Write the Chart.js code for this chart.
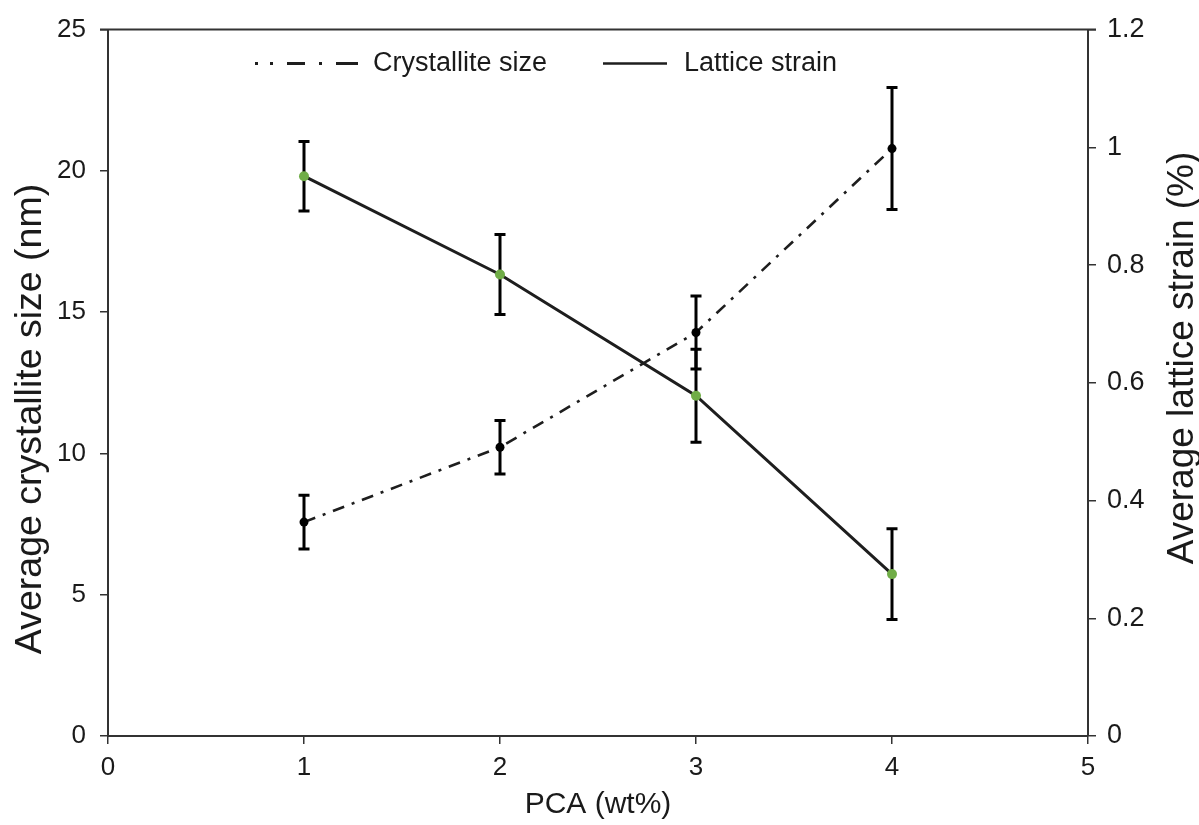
<!DOCTYPE html>
<html>
<head>
<meta charset="utf-8">
<script src="https://cdn.jsdelivr.net/npm/chart.js@4/dist/chart.umd.min.js"></script>
<style>
  html, body { margin: 0; padding: 0; background: #ffffff; }
  #wrap { width: 1199px; height: 825px; }
</style>
</head>
<body>
<div id="wrap"><canvas id="c" width="1199" height="825"></canvas></div>
<script>
// ---- data ----
const pca = [1, 2, 3, 4];
const crystalliteSize = [7.57, 10.22, 14.28, 20.79];
const crystalliteErr = [0.95, 0.95, 1.29, 2.16];
const latticeStrain = [0.951, 0.784, 0.578, 0.275];
const latticeErr = [0.059, 0.068, 0.079, 0.077];

const xTicks = [0, 1, 2, 3, 4, 5];
const leftTicks = [0, 5, 10, 15, 20, 25];
const rightTicks = [0, 0.2, 0.4, 0.6, 0.8, 1, 1.2];

const xTitle = 'PCA (wt%)';
const leftTitle = 'Average crystallite size (nm)';
const rightTitle = 'Average lattice strain (%)';

const FONT = '"Liberation Sans", Arial, sans-serif';
const INK = '#1a1a1a';
const AXIS = '#333333';
const GREEN = '#70ad47';
const DASHDOT = [12, 8, 3, 8];

const errorBars = {
  id: 'errorBars',
  beforeDatasetsDraw(chart) {
    const ctx = chart.ctx;
    const xs = chart.scales.x;
    const sets = [
      { axis: chart.scales.y, vals: crystalliteSize, err: crystalliteErr },
      { axis: chart.scales.y1, vals: latticeStrain, err: latticeErr }
    ];
    ctx.save();
    ctx.strokeStyle = '#000';
    ctx.lineWidth = 3;
    ctx.lineCap = 'butt';
    sets.forEach(s => {
      pca.forEach((xv, i) => {
        const px = xs.getPixelForValue(xv);
        const top = s.axis.getPixelForValue(s.vals[i] + s.err[i]);
        const bot = s.axis.getPixelForValue(s.vals[i] - s.err[i]);
        ctx.beginPath();
        ctx.moveTo(px, top); ctx.lineTo(px, bot);
        ctx.moveTo(px - 5.5, top); ctx.lineTo(px + 5.5, top);
        ctx.moveTo(px - 5.5, bot); ctx.lineTo(px + 5.5, bot);
        ctx.stroke();
      });
    });
    ctx.restore();
  }
};

function verticalTitle(ctx, text, x, y, size) {
  ctx.save();
  ctx.fillStyle = INK;
  ctx.font = size + 'px ' + FONT;
  ctx.textAlign = 'center';
  ctx.textBaseline = 'middle';
  ctx.translate(x, y);
  ctx.rotate(-Math.PI / 2);
  ctx.fillText(text, 0, 0);
  ctx.restore();
}

const frameAndLegend = {
  id: 'frameAndLegend',
  afterDraw(chart) {
    const ctx = chart.ctx;
    const a = chart.chartArea;
    ctx.save();
    // top frame line
    ctx.strokeStyle = AXIS;
    ctx.lineWidth = 2;
    ctx.beginPath();
    ctx.moveTo(a.left - 8, a.top);
    ctx.lineTo(a.right + 8, a.top);
    ctx.stroke();
    ctx.restore();

    // axis titles (both read bottom to top)
    verticalTitle(ctx, leftTitle, 31, 419, 37.5);
    verticalTitle(ctx, rightTitle, 1183, 358, 37);

    // legend
    const ly = a.top + 34;
    const ds = chart.data.datasets;
    ctx.save();
    ctx.strokeStyle = ds[0].borderColor;
    ctx.lineWidth = 3;
    ctx.setLineDash([3, 12, 3, 14, 18, 14, 3, 14, 22, 50]);
    ctx.beginPath();
    ctx.moveTo(255, ly); ctx.lineTo(358, ly);
    ctx.stroke();
    ctx.setLineDash([]);
    ctx.strokeStyle = ds[1].borderColor;
    ctx.lineWidth = 2.5;
    ctx.beginPath();
    ctx.moveTo(603, ly); ctx.lineTo(667, ly);
    ctx.stroke();
    ctx.fillStyle = INK;
    ctx.font = '27px ' + FONT;
    ctx.textAlign = 'left';
    ctx.textBaseline = 'middle';
    ctx.fillText(ds[0].label, 373, ly);
    ctx.fillText(ds[1].label, 684, ly);
    ctx.restore();
  }
};

new Chart(document.getElementById('c'), {
  type: 'line',
  data: {
    datasets: [
      {
        label: 'Crystallite size',
        data: pca.map((x, i) => ({ x: x, y: crystalliteSize[i] })),
        yAxisID: 'y',
        borderColor: '#1e1e1e',
        borderWidth: 2.6,
        borderDash: DASHDOT,
        pointRadius: 4.5,
        pointBackgroundColor: '#000000',
        pointBorderWidth: 0,
        tension: 0
      },
      {
        label: 'Lattice strain',
        data: pca.map((x, i) => ({ x: x, y: latticeStrain[i] })),
        yAxisID: 'y1',
        borderColor: '#1e1e1e',
        borderWidth: 3,
        pointRadius: 5,
        pointBackgroundColor: GREEN,
        pointBorderWidth: 0,
        tension: 0
      }
    ]
  },
  options: {
    responsive: false,
    animation: false,
    layout: { padding: { top: 28, left: 0, right: 0, bottom: 0 } },
    plugins: { legend: { display: false }, tooltip: { enabled: false } },
    scales: {
      x: {
        type: 'linear',
        position: 'bottom',
        min: xTicks[0],
        max: xTicks[xTicks.length - 1],
        afterBuildTicks: s => { s.ticks = xTicks.map(v => ({ value: v })); },
        afterFit: s => { s.height = 89; },
        grid: { drawOnChartArea: false, drawTicks: true, tickLength: 8, color: AXIS, lineWidth: 1.5 },
        border: { display: true, color: AXIS, width: 2 },
        ticks: { color: INK, font: { family: FONT, size: 26 }, padding: 8 },
        title: { display: true, text: xTitle, color: INK, font: { family: FONT, size: 30, lineHeight: 1 }, padding: { top: 0, bottom: 5 } }
      },
      y: {
        type: 'linear',
        position: 'left',
        min: leftTicks[0],
        max: leftTicks[leftTicks.length - 1],
        afterBuildTicks: s => { s.ticks = leftTicks.map(v => ({ value: v })); },
        afterFit: s => { s.width = 108; },
        grid: { drawOnChartArea: false, drawTicks: true, tickLength: 8, color: AXIS, lineWidth: 1.5 },
        border: { display: true, color: AXIS, width: 2 },
        ticks: { color: INK, font: { family: FONT, size: 26 }, padding: 14 }
      },
      y1: {
        type: 'linear',
        position: 'right',
        min: rightTicks[0],
        max: rightTicks[rightTicks.length - 1],
        afterBuildTicks: s => { s.ticks = rightTicks.map(v => ({ value: v })); },
        afterFit: s => { s.width = 111; },
        grid: { drawOnChartArea: false, drawTicks: true, tickLength: 8, color: AXIS, lineWidth: 1.5 },
        border: { display: true, color: AXIS, width: 2 },
        ticks: { color: INK, font: { family: FONT, size: 27 }, padding: 11, callback: v => String(+v.toFixed(1)) }
      }
    }
  },
  plugins: [errorBars, frameAndLegend]
});
</script>
</body>
</html>
